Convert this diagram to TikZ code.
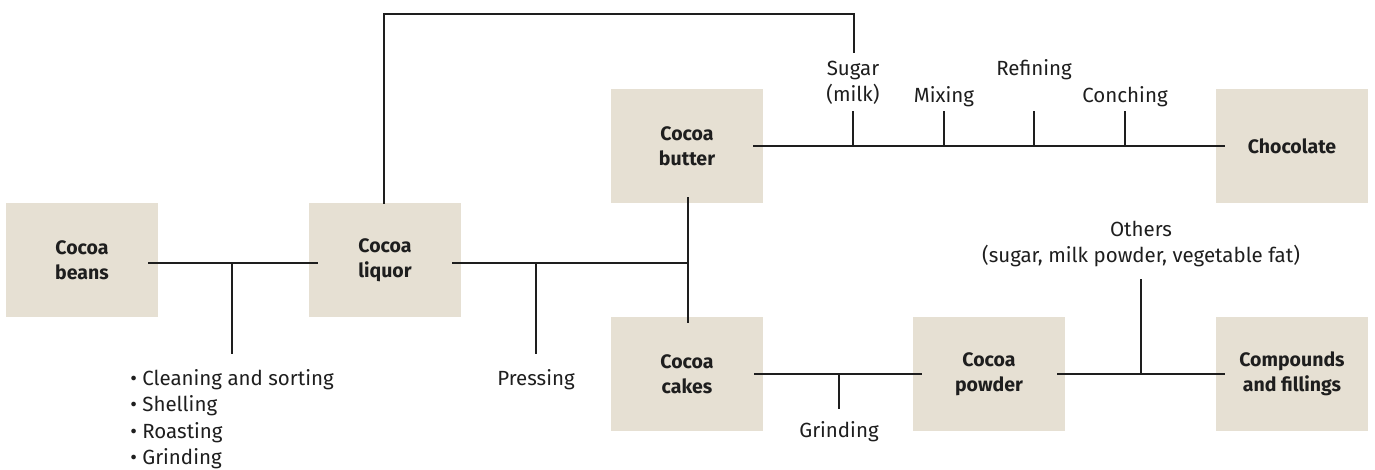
\documentclass[tikz,border=0pt]{standalone}
\usepackage{fontspec}
\setmainfont{Fira Sans}
\definecolor{boxfill}{HTML}{E6E0D3}
\definecolor{ink}{HTML}{1E1E1E}
\begin{document}
\begin{tikzpicture}[x=1pt,y=-1pt,
  prodbox/.style={fill=boxfill, draw=none, minimum width=152pt, minimum height=114pt,
    inner sep=0pt, align=center, text=ink,
    font=\fontsize{19.5}{25}\selectfont\bfseries},
  lbl/.style={inner sep=0pt, align=center, text=ink, font=\fontsize{20.5}{26.5}\selectfont},
  link/.style={draw=ink, line width=1.3pt}]
\useasboundingbox (0,0) rectangle (1375,470);

% product boxes
\node[prodbox] (beans)     at (82,260)   {Cocoa\\beans};
\node[prodbox] (liquor)    at (385,260)  {Cocoa\\liquor};
\node[prodbox] (butter)    at (687,146)  {Cocoa\\butter};
\node[prodbox] (choc)      at (1292,146) {Chocolate};
\node[prodbox] (cakes)     at (687,374)  {Cocoa\\cakes};
\node[prodbox] (powder)    at (989,374)  {Cocoa\\powder};
\node[prodbox] (compounds) at (1292,374) {Compounds\\and fillings};

% process labels
\node[lbl, align=left] (prep) at (232,419)
  {\textbullet\ Cleaning and sorting\\\textbullet\ Shelling\\\textbullet\ Roasting\\\textbullet\ Grinding};
\node[lbl] (press)  at (536,380)  {Pressing};
\node[lbl] (sugar)  at (853,83)   {Sugar\\(milk)};
\node[lbl] (mix)    at (944,97)   {Mixing};
\node[lbl] (refine) at (1034,70)  {Refining};
\node[lbl] (conch)  at (1125,97)  {Conching};
\node[lbl] (grind)  at (839,432)  {Grinding};
\node[lbl] (others) at (1141,244) {Others\\(sugar, milk powder, vegetable fat)};

% junction points
\coordinate (jprep)  at (232,263);
\coordinate (jpress) at (536,263);
\coordinate (jbut)   at (688,263);
\coordinate (jgrind) at (839,374);
\coordinate (joth)   at (1141,374);
\coordinate (tl)     at (384,14);
\coordinate (tr)     at (854,14);

% beans -> liquor
\draw[link] ([xshift=-10pt]beans.east |- jprep) -- ([xshift=9pt]liquor.west |- jprep);
\draw[link] (jprep) -- (jprep |- 0,354);

% liquor -> pressing -> butter / cakes
\draw[link] ([xshift=-9pt]liquor.east |- jpress) -- (jbut);
\draw[link] (jpress) -- (jpress |- 0,354);
\draw[link] ([yshift=6pt]butter.south -| jbut) -- ([yshift=-6pt]cakes.north -| jbut);

% liquor -> sugar loop
\draw[link] ([yshift=-1pt]liquor.north -| tl) -- (tl) -- (tr) -- (tr |- 0,53);

% butter -> chocolate with process ticks
\draw[link] ([xshift=-10pt]butter.east) -- ([xshift=9pt]choc.west);
\draw[link] (sugar.south  |- butter.east) -- (sugar.south  |- 0,111);
\draw[link] (mix.south    |- butter.east) -- (mix.south    |- 0,111);
\draw[link] (refine.south |- butter.east) -- (refine.south |- 0,111);
\draw[link] (conch.south  |- butter.east) -- (conch.south  |- 0,111);

% cakes -> powder
\draw[link] ([xshift=-9pt]cakes.east) -- ([xshift=9pt]powder.west);
\draw[link] (jgrind) -- (jgrind |- 0,409);

% powder -> compounds
\draw[link] ([xshift=-8pt]powder.east) -- ([xshift=9pt]compounds.west);
\draw[link] (joth) -- (joth |- 0,279);
\end{tikzpicture}
\end{document}
